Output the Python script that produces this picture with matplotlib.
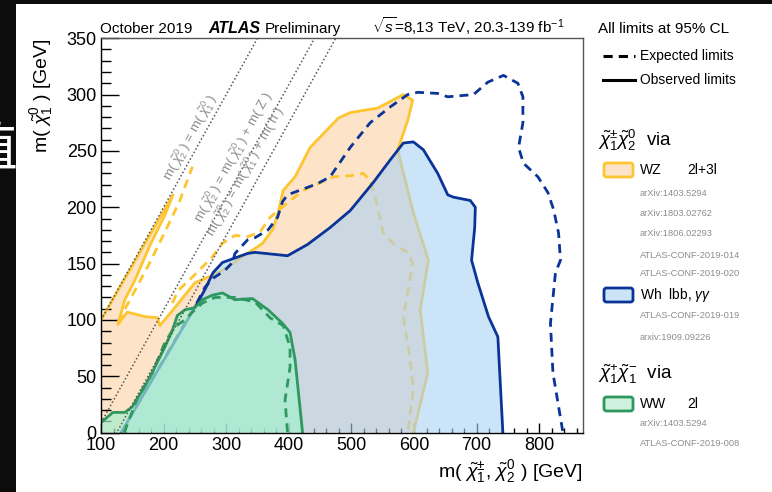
"""ATLAS electroweakino summary (Oct 2019): chi1+- chi2^0 / chi1+ chi1- limits."""
import numpy as np
import matplotlib

matplotlib.use("Agg")
import matplotlib.pyplot as plt  # noqa: E402
from matplotlib.patches import Rectangle, FancyBboxPatch, Polygon  # noqa: E402
from matplotlib.lines import Line2D  # noqa: E402
from matplotlib.ticker import MultipleLocator  # noqa: E402

plt.rcParams["font.family"] = ["Liberation Sans", "DejaVu Sans"]
plt.rcParams["mathtext.fontset"] = "custom"
plt.rcParams["mathtext.rm"] = "Liberation Sans"
plt.rcParams["mathtext.it"] = "Liberation Sans:italic"
plt.rcParams["mathtext.bf"] = "Liberation Sans:bold"

# ---- contours (m(chi1+-,chi2^0), m(chi1^0)) [GeV]
# WZ 2l+3l observed (starts at left edge, strip along diagonal, then main edge)
wz_obs_x = [100, 157, 215, 202, 178, 154, 138, 127, 142, 170, 190, 194, 218, 250,
            271, 294, 310, 326, 342, 358, 374, 383, 391, 410, 434, 479, 498, 542,
            583, 598, 590, 574, 586, 599, 623, 610, 622, 599]
wz_obs_y = [100, 155, 211, 193, 166, 135, 118, 96, 107, 103, 102, 95, 111, 133,
            138, 144, 150, 156, 162, 168, 180, 195, 215, 227, 253, 279, 284, 288,
            300, 295, 277, 251, 224, 195, 153, 109, 53, 0]
# WZ expected: piece inside the diagonal strip, and the main piece
wz_exp_strip_x = [127, 154, 178, 202, 226, 246]
wz_exp_strip_y = [98, 126, 151, 178, 206, 236]
wz_exp_x = [214, 223, 246, 262, 278, 294, 314, 335, 354, 370, 398, 423, 471, 498,
            519, 530, 542, 551, 570, 590, 598, 583, 594, 599, 590]
wz_exp_y = [115, 126, 138, 147, 156, 168, 175, 174, 178, 191, 204, 215, 227, 228,
            230, 224, 200, 177, 166, 160, 150, 103, 64, 38, 0]

# Wh observed / expected
wh_obs_x = [132, 254, 266, 279, 294, 314, 334, 346, 398, 430, 466, 498, 535, 562,
            583, 599, 615, 638, 654, 663, 690, 698, 697, 692, 702, 719, 734, 737, 742]
wh_obs_y = [0, 115, 127, 142, 151, 155, 159, 160, 157, 167, 182, 197, 222, 242,
            257, 258, 251, 230, 211, 209, 206, 200, 182, 153, 133, 103, 85, 53, 0]
wh_exp_x = [132, 254, 266, 279, 298, 310, 314, 334, 346, 367, 382, 390, 398, 446,
            466, 498, 530, 562, 590, 606, 638, 654, 695, 718, 743, 766, 774, 774,
            767, 775, 798, 814, 823, 831, 834, 826, 818, 822, 838]
wh_exp_y = [0, 116, 129, 137, 144, 151, 159, 171, 173, 180, 191, 205, 211, 221,
            227, 253, 275, 289, 300, 302, 301, 298, 300, 311, 317, 310, 298, 275,
            253, 239, 227, 213, 198, 177, 153, 142, 97, 53, 0]

# WW 2l observed / expected
ww_obs_x = [100, 119, 138, 150, 170, 186, 202, 214, 222, 234, 250, 262, 278, 294,
            314, 342, 367, 390, 402, 410, 422]
ww_obs_y = [9, 18, 18, 23, 41, 58, 76, 91, 104, 109, 111, 118, 122, 124, 118, 119,
            109, 97, 89, 65, 0]
ww_exp_x = [137, 159, 182, 202, 218, 234, 246, 262, 282, 314, 346, 370, 391, 402,
            402, 394, 398]
ww_exp_y = [0, 32, 53, 80, 94, 100, 107, 115, 120, 120, 116, 102, 95, 76, 58, 29, 0]

# kinematic limits: m(chi2^0) = m(chi1^0) + offset
diag_offsets = [0.0, 91.2, 125.0]
diag_labels = [
    r"m( $\tilde{\chi}_{2}^{0}$ ) = m( $\tilde{\chi}_{1}^{0}$ )",
    r"m( $\tilde{\chi}_{2}^{0}$ ) = m( $\tilde{\chi}_{1}^{0}$ ) + m( Z )",
    r"m( $\tilde{\chi}_{2}^{0}$ ) = m( $\tilde{\chi}_{1}^{0}$ ) + m( h )",
]
diag_label_pos = [(242, 262), (311, 244), (331, 232)]

ORANGE, PEACH = "#fdc52f", "#fde3c7"
NAVY, LBLUE = "#0a3497", (170 / 255, 210 / 255, 243 / 255)
GREEN, MINT = "#2f985f", (164 / 255, 239 / 255, 206 / 255)
GREY = "#8c8c8c"
DASH = (3.2, 2.2)

fig = plt.figure(figsize=(7.72, 4.92), dpi=100, facecolor="#0c0c0c")

# overlay axes in pixel coordinates for the frame texts
fa = fig.add_axes([0, 0, 1, 1])
fa.set_xlim(0, 772); fa.set_ylim(492, 0); fa.axis("off")
fa.add_patch(Rectangle((16, 4), 756, 488, facecolor="white", edgecolor="none"))
fa.text(-9, 150, "值", color="white", fontsize=38, ha="center", va="center",
        family=["Noto Sans CJK SC", "DejaVu Sans"])

ax = fig.add_axes([101 / 772, (492 - 432.7) / 492, 482 / 772, 394.5 / 492])
ax.set_xlim(100, 870); ax.set_ylim(0, 350)

# WZ
ax.add_patch(Polygon(list(zip([100] + wz_obs_x, [0] + wz_obs_y)), closed=True,
                     facecolor=PEACH, edgecolor="none", zorder=1))
ax.plot(wz_obs_x, wz_obs_y, color=ORANGE, lw=2, zorder=2)
ax.plot(wz_exp_x, wz_exp_y, color=ORANGE, lw=2, dashes=DASH, zorder=2)
ax.plot(wz_exp_strip_x, wz_exp_strip_y, color=ORANGE, lw=2, dashes=DASH, zorder=2)

# Wh
ax.add_patch(Polygon(list(zip(wh_obs_x, wh_obs_y)), closed=True,
                     facecolor=LBLUE, alpha=0.6, edgecolor="none", zorder=3))
ax.plot(wh_obs_x, wh_obs_y, color=NAVY, lw=2, zorder=4)
ax.plot(wh_exp_x, wh_exp_y, color=NAVY, lw=2, dashes=DASH, zorder=4)

# WW
ax.add_patch(Polygon(list(zip([100] + ww_obs_x, [0] + ww_obs_y)), closed=True,
                     facecolor=MINT, alpha=0.7, edgecolor="none", zorder=5))
ax.plot(ww_obs_x, ww_obs_y, color=GREEN, lw=2, zorder=6)
ax.plot(ww_exp_x, ww_exp_y, color=GREEN, lw=2, dashes=DASH, zorder=6)

# kinematic lines
xs = np.array([100.0, 900.0])
for off, lab, pos in zip(diag_offsets, diag_labels, diag_label_pos):
    ax.plot(xs, xs - off, color="#555555", lw=1.1, ls=(0, (1, 1.5)), zorder=7)
    ax.text(pos[0], pos[1], lab, rotation=61, ha="center", va="center",
            color=GREY, fontsize=9.5, zorder=7)

ax.xaxis.set_major_locator(MultipleLocator(100))
ax.xaxis.set_minor_locator(MultipleLocator(20))
ax.yaxis.set_major_locator(MultipleLocator(50))
ax.yaxis.set_minor_locator(MultipleLocator(10))
ax.tick_params(which="both", direction="in", top=False, right=False, labelsize=13,
               width=1, pad=3)
ax.xaxis.set_tick_params(which="major", length=7)
ax.xaxis.set_tick_params(which="minor", length=3.5)
ax.yaxis.set_tick_params(which="major", length=13)
ax.yaxis.set_tick_params(which="minor", length=7)
for side in ("top", "right"):
    ax.spines[side].set_color("#555555")
for sp in ax.spines.values():
    sp.set_linewidth(1)
    sp.set_zorder(10)

# axis titles
fa.text(42, 38, r"m( $\tilde{\chi}_{1}^{0}$ ) [GeV]", rotation=90, ha="center",
        va="top", fontsize=14)
fa.text(583, 477, r"m( $\tilde{\chi}_{1}^{\pm}$, $\tilde{\chi}_{2}^{0}$ ) [GeV]",
        ha="right", va="baseline", fontsize=14)

# header
fa.text(100, 33, "October 2019", fontsize=11, va="baseline")
fa.text(208, 33, "ATLAS", fontsize=11.5, va="baseline", weight="bold", style="italic")
fa.text(265, 33, "Preliminary", fontsize=11, va="baseline")
fa.text(372, 33, r"$\sqrt{s}$=8,13 TeV, 20.3-139 fb$^{-1}$", fontsize=11, va="baseline")

# legend block
fa.text(598, 33, "All limits at 95% CL", fontsize=11, va="baseline")
fa.add_line(Line2D([603, 635], [56, 56], color="black", lw=2.2, dashes=(3, 2)))
fa.text(640, 56, "Expected limits", fontsize=10, va="center")
fa.add_line(Line2D([603, 635], [80, 80], color="black", lw=2.2))
fa.text(640, 80, "Observed limits", fontsize=10, va="center")

fa.text(598, 140, r"$\tilde{\chi}_{1}^{\pm}\tilde{\chi}_{2}^{0}$  via", fontsize=13.5,
        va="center")
fa.text(598, 374, r"$\tilde{\chi}_{1}^{+}\tilde{\chi}_{1}^{-}$  via", fontsize=13.5,
        va="center")

legend_rows = [
    (170, PEACH, ORANGE, "WZ", "2l+3l",
     ["arXiv:1403.5294", "arXiv:1803.02762", "arXiv:1806.02293",
      "ATLAS-CONF-2019-014", "ATLAS-CONF-2019-020"], [193, 213, 233, 255, 274]),
    (295, "#cce4f8", NAVY, r"Wh  lbb, $\gamma\gamma$", "",
     ["ATLAS-CONF-2019-019", "arxiv:1909.09226"], [315, 337]),
    (404, "#cdf2de", GREEN, "WW", "2l",
     ["arXiv:1403.5294", "ATLAS-CONF-2019-008"], [423, 443]),
]
for yc, fc, ec, name, chan, refs, ry in legend_rows:
    fa.add_patch(FancyBboxPatch((604, yc - 7), 29, 14,
                                boxstyle="round,pad=0,rounding_size=2.5",
                                facecolor=fc, edgecolor=ec, lw=2))
    fa.text(640, yc, name, fontsize=10, va="center")
    if chan:
        fa.text(687, yc, chan, fontsize=10, va="center")
    for r, y in zip(refs, ry):
        fa.text(640, y, r, fontsize=6.7, color=GREY, va="center")

fig.savefig("out.png", dpi=100, facecolor=fig.get_facecolor())
